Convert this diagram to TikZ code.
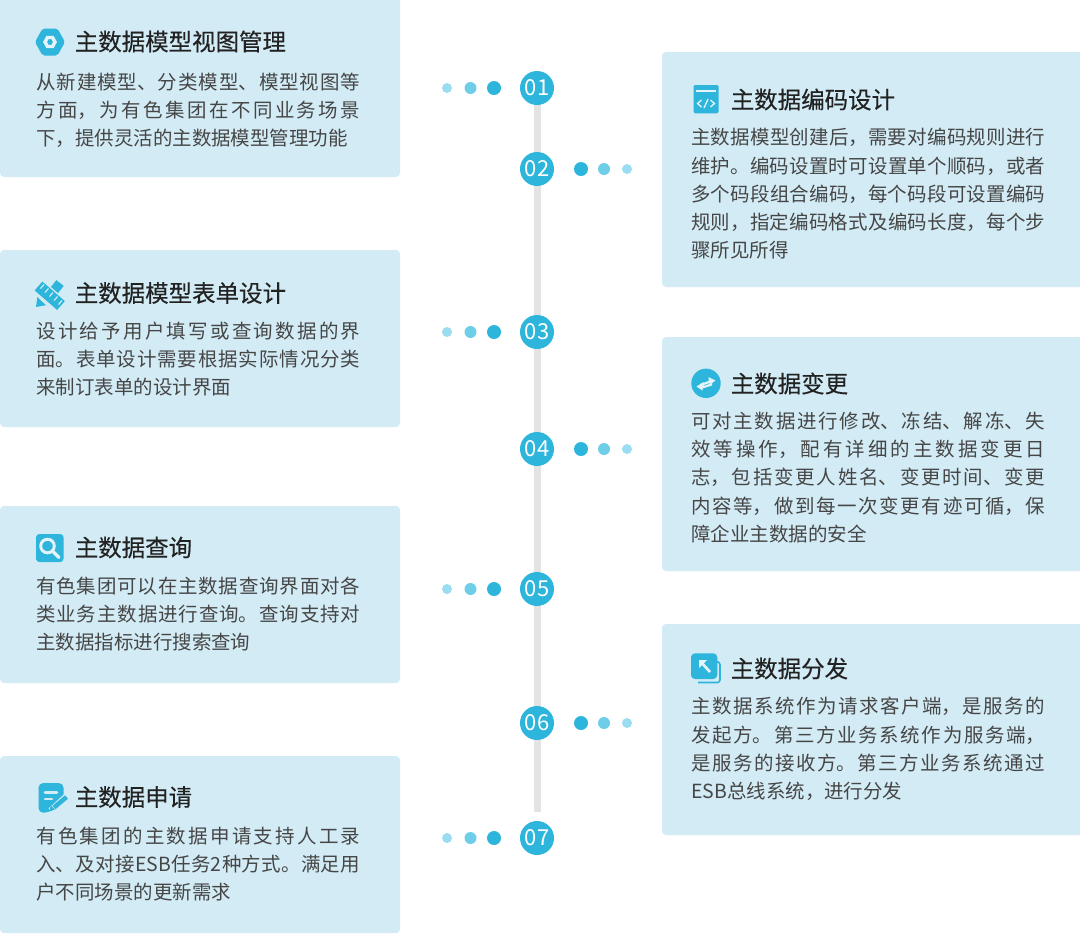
\documentclass[tikz,border=0pt]{standalone}
\usepackage{fontspec}
\setmainfont{Noto Sans CJK SC}
\newfontfamily\titlef[FakeBold=0.35]{Noto Sans CJK SC}
\XeTeXlinebreaklocale "zh"
\XeTeXlinebreakskip=0pt plus 6pt
\definecolor{boxc}{HTML}{D2EBF5}
\definecolor{bluec}{HTML}{2DB5DB}
\definecolor{midc}{HTML}{6ECEE8}
\definecolor{palec}{HTML}{9ADDF0}
\definecolor{railc}{HTML}{E3E3E3}
\definecolor{titlec}{HTML}{222222}
\definecolor{bodyc}{HTML}{464646}
\definecolor{glyphc}{HTML}{E4F4FA}
\newcommand{\numtxt}[1]{\raisebox{-0.7pt}{#1}}
\tikzset{
 x=0.75pt,y=-0.75pt,
 card/.style={fill=boxc,draw=none,rounded corners=3pt},
 num/.style={circle,fill=bluec,minimum size=25.5pt,inner sep=0pt,text=white,font=\fontsize{16.5}{16.5}\selectfont},
 ttl/.style={anchor=west,inner sep=0pt,text=titlec,font=\titlef\fontsize{17.6}{20}\selectfont},
 body/.style={anchor=north west,inner sep=0pt,text=bodyc,text width=#1,align=justify,font=\fontsize{14.6}{21.2}\selectfont},
 dotA/.style={circle,fill=bluec,minimum size=10.5pt,inner sep=0pt},
 dotB/.style={circle,fill=midc,minimum size=9pt,inner sep=0pt},
 dotC/.style={circle,fill=palec,minimum size=7.5pt,inner sep=0pt},
 ico/.style={fill=bluec,draw=none},
}
\begin{document}
\begin{tikzpicture}
\useasboundingbox (0,0) rectangle (1080,933);
% cards
\fill[card] (0,-5) rectangle (400,177);
\fill[card] (0,250) rectangle (400,427);
\fill[card] (0,506) rectangle (400,683);
\fill[card] (0,756) rectangle (400,933);
\fill[card] (662,52) rectangle (1085,287);
\fill[card] (662,337) rectangle (1085,571);
\fill[card] (662,624) rectangle (1085,835);
% timeline
\node[num] (n1) at (537,88) {\numtxt{01}};
\node[num] (n2) at (537,169) {\numtxt{02}};
\node[num] (n3) at (537,332) {\numtxt{03}};
\node[num] (n4) at (537,449) {\numtxt{04}};
\node[num] (n5) at (537,589) {\numtxt{05}};
\node[num] (n6) at (537,723) {\numtxt{06}};
\node[num] (n7) at (537,838) {\numtxt{07}};
\coordinate (railend) at (537,812);
\draw[railc,line width=5.25pt] (n1) -- (n2) -- (n3) -- (n4) -- (n5) -- (n6) -- (railend);
% dots
\foreach \y [count=\i] in {88,332,589,838}{
 \node[dotC] (lc\i) at (447,\y) {};
 \node[dotB] (lb\i) at (470.5,\y) {};
 \node[dotA] (la\i) at (494,\y) {};
}
\foreach \y [count=\i] in {169,449,723}{
 \node[dotA] (ra\i) at (581,\y) {};
 \node[dotB] (rb\i) at (604,\y) {};
 \node[dotC] (rc\i) at (627,\y) {};
}
% titles
\node[ttl] (t1) at (74.5,41.5) {主数据模型视图管理};
\node[ttl] (t3) at (74.5,293) {主数据模型表单设计};
\node[ttl] (t5) at (74.5,547.5) {主数据查询};
\node[ttl] (t7) at (74.5,797) {主数据申请};
\node[ttl] (t2) at (730.5,99.5) {主数据编码设计};
\node[ttl] (t4) at (730.5,383.5) {主数据变更};
\node[ttl] (t6) at (730.5,668.5) {主数据分发};
% bodies
\node[body=243pt] (b1) at (36,72.5) {从新建模型、分类模型、模型视图等\linebreak[4]方面，为有色集团在不同业务场景\linebreak[4]下，提供灵活的主数据模型管理功能};
\node[body=243pt] (b3) at (36,321.5) {设计给予用户填写或查询数据的界\linebreak[4]面。表单设计需要根据实际情况分类\linebreak[4]来制订表单的设计界面};
\node[body=243pt] (b5) at (36,576.5) {有色集团可以在主数据查询界面对各\linebreak[4]类业务主数据进行查询。查询支持对\linebreak[4]主数据指标进行搜索查询};
\node[body=243pt] (b7) at (36,826.5) {有色集团的主数据申请支持人工录\linebreak[4]入、及对接ESB任务2种方式。满足用\linebreak[4]户不同场景的更新需求};
\node[body=265.5pt] (b2) at (691,128) {主数据模型创建后，需要对编码规则进行\linebreak[4]维护。编码设置时可设置单个顺码，或者\linebreak[4]多个码段组合编码，每个码段可设置编码\linebreak[4]规则，指定编码格式及编码长度，每个步\linebreak[4]骤所见所得};
\node[body=265.5pt] (b4) at (691,411.5) {可对主数据进行修改、冻结、解冻、失\linebreak[4]效等操作，配有详细的主数据变更日\linebreak[4]志，包括变更人姓名、变更时间、变更\linebreak[4]内容等，做到每一次变更有迹可循，保\linebreak[4]障企业主数据的安全};
\node[body=265.5pt] (b6) at (691,697) {主数据系统作为请求客户端，是服务的\linebreak[4]发起方。第三方业务系统作为服务端，\linebreak[4]是服务的接收方。第三方业务系统通过\linebreak[4]ESB总线系统，进行分发};
% icon 1: hexagon nut
\fill[ico,rounded corners=1.5pt] (35,42) -- (42.5,28.5) -- (57.5,28.5) -- (65,42) -- (57.5,55.5) -- (42.5,55.5) -- cycle;
\draw[glyphc,line width=2.6pt] (45,42) -- (47.5,37.5) -- (52.5,37.5) -- (55,42) -- (52.5,46.5) -- (47.5,46.5) -- cycle;
% icon 2: pencil under ruler
\fill[ico] (36,307) -- (37.5,296) -- (47,305) -- cycle;
\draw[bluec,line width=7pt] (53,292) -- (60,283);
\draw[boxc,line width=1.1pt] (37.5,296) -- (47,305);
\draw[boxc,line width=11pt] (38.5,286) -- (61,305.5);
\draw[bluec,line width=8.8pt] (38.5,286) -- (61,305.5);
\foreach \x/\y in {44/284.5,48.5/288.5,53/292.5,57.5/296.5,62/300.5}{
 \draw[boxc,line width=0.9pt] (\x,\y) -- ++(-3.5,4);
}
% icon 3: magnifier
\fill[ico,rounded corners=2.5pt] (36,534) rectangle (63.5,562);
\draw[glyphc,line width=2.2pt] (47.5,546) circle (6.8);
\draw[glyphc,line width=2.6pt,line cap=round] (52.5,551) -- (59,557.5);
% icon 4: form with pencil
\fill[ico,rounded corners=3.5pt] (38.5,783) -- (63.5,783) -- (63.5,799) -- (49,812.7) -- (38.5,812.7) -- cycle;
\draw[boxc,line width=1.9pt,line cap=round] (45,792.5) -- (57,792.5) (45,799) -- (52,799);
\draw[boxc,line width=5.4pt] (51,811) -- (67.5,796);
\draw[bluec,line width=3.4pt] (54,807.5) -- (66.5,797);
\fill[bluec] (49.5,811.5) -- (50.8,805.5) -- (55,809.5) -- cycle;
% icon 5: code window
\fill[ico,rounded corners=1pt] (693.5,85) rectangle (718.5,113.3);
\draw[glyphc,line width=0.9pt] (696,91) -- (716,91);
\draw[glyphc,line width=1pt] (701.5,100) -- (697.5,103.5) -- (701.5,107) (708,99) -- (704,108) (710.5,100) -- (714.5,103.5) -- (710.5,107);
% icon 6: swap arrows
\fill[ico] (706,383.3) circle (14.7);
\fill[glyphc] (700,384) -- (708.5,381) -- (708.5,377) -- (715.5,380.5) -- (709.5,385) -- (709.5,383) -- (700,386.5) -- cycle;
\fill[glyphc] (712,383) -- (703.5,386) -- (703.5,382) -- (696.5,386.5) -- (702.5,390.5) -- (702.5,388.5) -- (712,385.5) -- cycle;
% icon 7: stacked arrow
\draw[bluec,line width=1.2pt,rounded corners=2pt] (718.5,662) -- (720,662) -- (720,682.5) -- (698,682.5);
\fill[ico,rounded corners=3pt] (691,653.3) rectangle (717.3,679);
\draw[glyphc,line width=2pt] (701,662) -- (710,672);
\fill[glyphc] (699,660) -- (707,660) -- (699,668) -- cycle;
\end{tikzpicture}
\end{document}
